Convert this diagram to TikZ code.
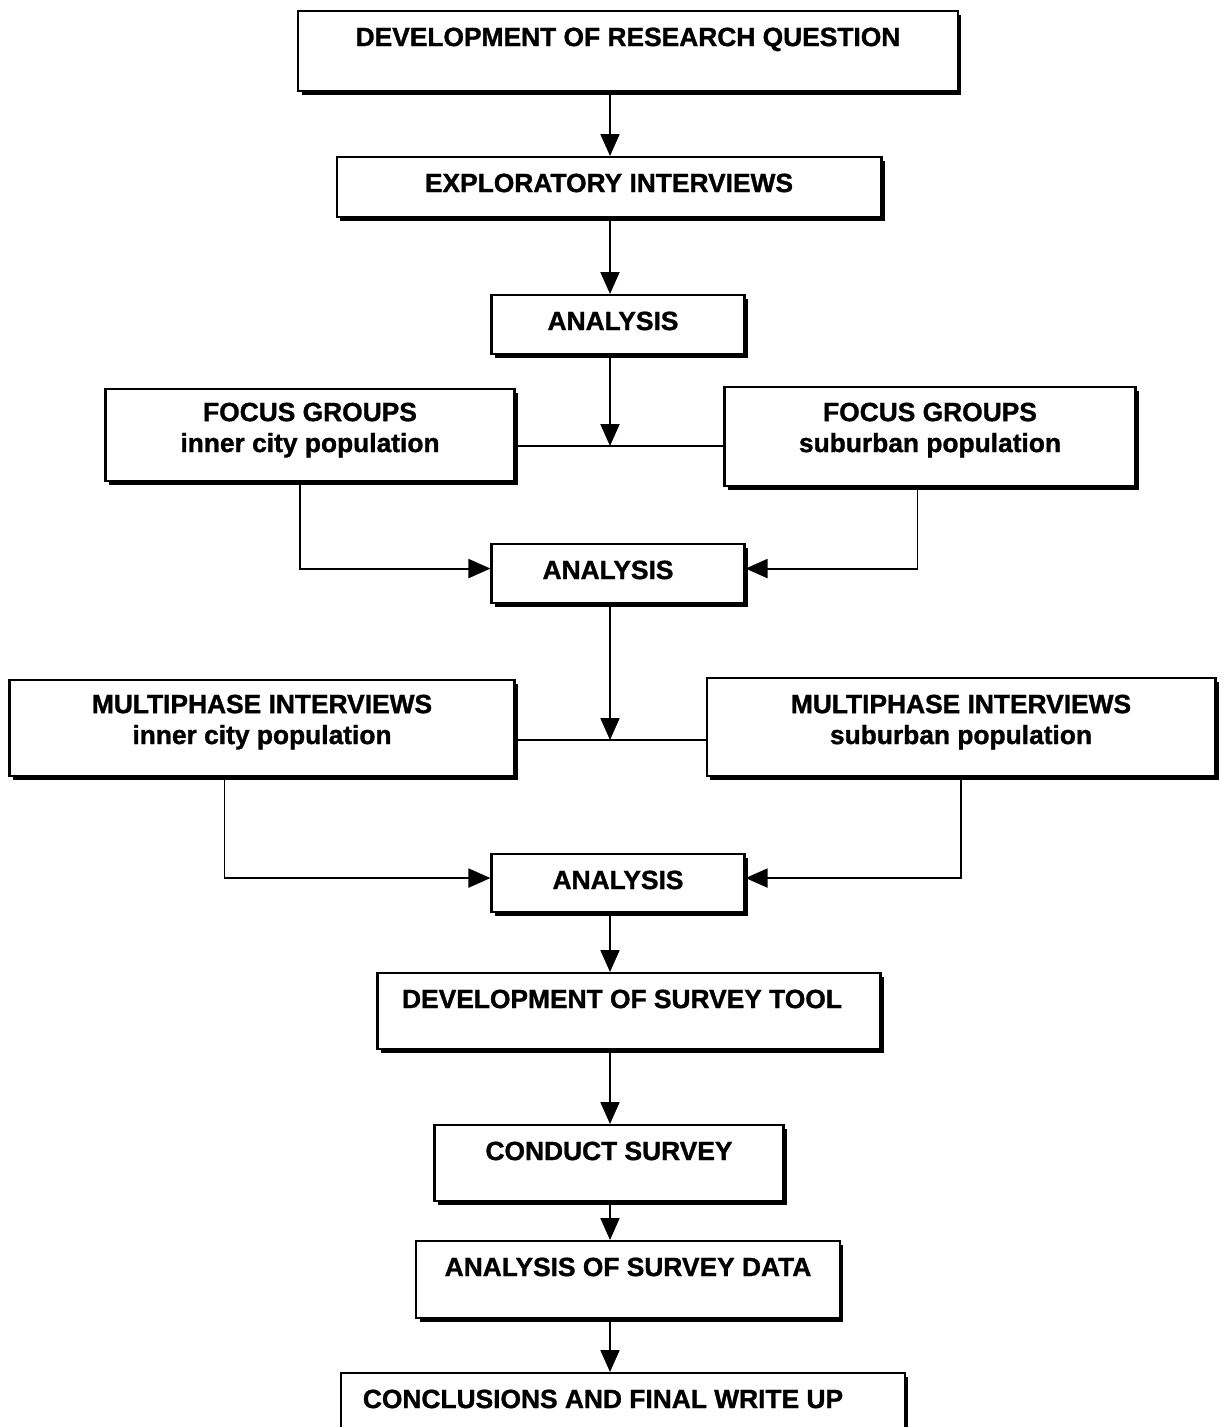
\documentclass[tikz,border=0pt]{standalone}
\usepackage{fontspec}
\setmainfont{Liberation Sans}[BoldFeatures={FakeBold=1.2}]
\usepackage{tikz}
\usetikzlibrary{arrows.meta,shadows}
\tikzset{
    box/.style={draw, rectangle, fill=white, line width=1.2pt, inner xsep=0pt, inner ysep=0pt, text height=0.7cm, align=center, anchor=north, font=\fontsize{15pt}{17.6pt}\selectfont\bfseries, drop shadow={shadow xshift=0.07cm, shadow yshift=-0.07cm, fill=black, opacity=1}},
    arrow/.style={-{Triangle[width=0.38cm, length=0.44cm]}, line width=1.1pt},
    link/.style={line width=1.1pt}
}
\begin{document}
\begin{tikzpicture}[x=0.02cm, y=-0.02cm]
    \useasboundingbox (0,0) rectangle (1226,1427);

    \node[box, minimum width=13.2cm, text depth=0.9cm] (question) at (628,10) {DEVELOPMENT OF RESEARCH QUESTION};
    \node[box, minimum width=10.9cm, text depth=0.5cm] (explore) at (609,156) {EXPLORATORY INTERVIEWS};
    \node[box, minimum width=5.06cm, text depth=0.48cm] (analysisA) at (618,294) {ANALYSIS\hspace*{0.2cm}};
    \node[box, minimum width=8.18cm, text height=1.26cm, text depth=0.58cm] (focusInner) at (310,388) {FOCUS GROUPS\\inner city population};
    \node[box, minimum width=8.22cm, text height=1.3cm, text depth=0.68cm] (focusSuburb) at (930,386) {FOCUS GROUPS\\suburban population};
    \node[box, minimum width=5.06cm, text depth=0.48cm] (analysisB) at (618,543) {ANALYSIS\hspace*{0.4cm}};
    \node[box, minimum width=10.1cm, text height=1.28cm, text depth=0.64cm] (multiInner) at (262,679) {MULTIPHASE INTERVIEWS\\inner city population};
    \node[box, minimum width=10.18cm, text height=1.32cm, text depth=0.64cm] (multiSuburb) at (961,677) {MULTIPHASE INTERVIEWS\\suburban population};
    \node[box, minimum width=5.06cm, text depth=0.46cm] (analysisC) at (618,853) {ANALYSIS};
    \node[box, minimum width=10.06cm, text depth=0.82cm] (surveyTool) at (629,972) {DEVELOPMENT OF SURVEY TOOL\hspace*{0.28cm}};
    \node[box, minimum width=6.98cm, text depth=0.82cm] (conduct) at (609,1124) {CONDUCT SURVEY};
    \node[box, minimum width=8.48cm, text depth=0.84cm] (surveyData) at (628,1240) {ANALYSIS OF SURVEY DATA};
    \node[box, minimum width=11.28cm, text depth=1.0cm] (writeUp) at (623,1372) {CONCLUSIONS AND FINAL WRITE UP\hspace*{0.8cm}};

    % main spine and junctions
    \coordinate (spine) at (610,0);
    \coordinate (focusJoin) at (610,446);
    \coordinate (multiJoin) at (610,740);

    \draw[arrow] (question.south -| spine) -- (explore.north -| spine);
    \draw[arrow] (explore.south -| spine) -- (analysisA.north -| spine);
    \draw[link] (focusInner.east |- focusJoin) -- (focusSuburb.west |- focusJoin);
    \draw[arrow] (analysisA.south -| spine) -- (focusJoin);
    \draw[arrow] ([xshift=-0.2cm]focusInner.south) |- ([yshift=0.1cm]analysisB.west);
    \draw[arrow] ([xshift=-0.25cm]focusSuburb.south) |- ([yshift=0.1cm]analysisB.east);

    \draw[link] (multiInner.east |- multiJoin) -- (multiSuburb.west |- multiJoin);
    \draw[arrow] (analysisB.south -| spine) -- (multiJoin);
    \draw[arrow] ([xshift=-0.75cm]multiInner.south) |- ([yshift=0.1cm]analysisC.west);
    \draw[arrow] (multiSuburb.south) |- ([yshift=0.1cm]analysisC.east);

    \draw[arrow] (analysisC.south -| spine) -- (surveyTool.north -| spine);
    \draw[arrow] (surveyTool.south -| spine) -- (conduct.north -| spine);
    \draw[arrow] (conduct.south -| spine) -- (surveyData.north -| spine);
    \draw[arrow] (surveyData.south -| spine) -- (writeUp.north -| spine);
\end{tikzpicture}
\end{document}
